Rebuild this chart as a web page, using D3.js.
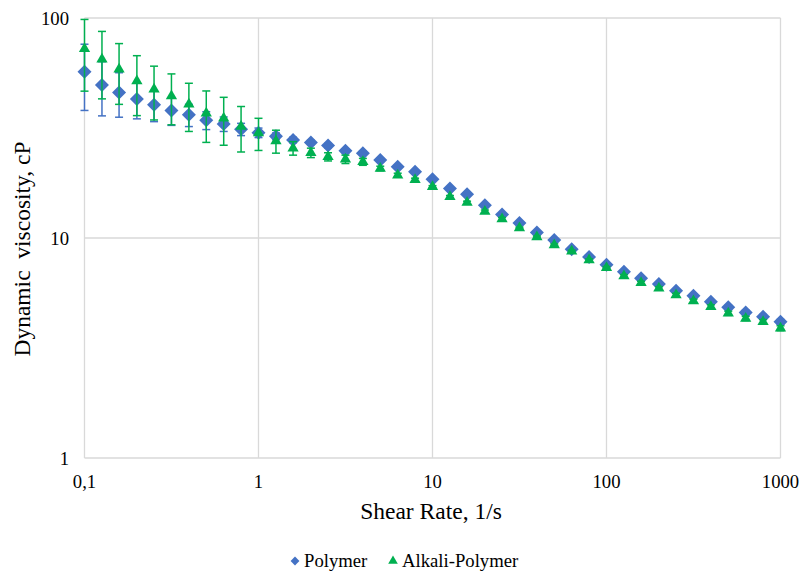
<!DOCTYPE html>
<html>
<head>
<meta charset="utf-8">
<script src="https://cdn.jsdelivr.net/npm/d3@7"></script>
<style>
  body { margin: 0; background: #fff; }
</style>
</head>
<body>
<div id="chart"></div>
<script>
// data //////////////////////
var shearRate = [0.1, 0.126, 0.158, 0.2, 0.251, 0.316, 0.398, 0.501, 0.631, 0.794,
                 1, 1.26, 1.58, 2, 2.51, 3.16, 3.98, 5.01, 6.31, 7.94,
                 10, 12.6, 15.8, 20, 25.1, 31.6, 39.8, 50.1, 63.1, 79.4,
                 100, 126, 158, 200, 251, 316, 398, 501, 631, 794, 1000];

var polymer = [57.0, 49.6, 45.9, 42.8, 40.3, 38.0, 36.3, 34.3, 33.0, 31.2,
               30.1, 29.0, 27.9, 27.2, 26.3, 24.9, 24.3, 22.6, 21.1, 20.0,
               18.5, 16.8, 15.8, 14.1, 12.8, 11.7, 10.6, 9.8, 8.9, 8.2,
               7.55, 7.03, 6.56, 6.18, 5.76, 5.47, 5.13, 4.84, 4.59, 4.39, 4.16];
var polymerErr = [19, 13.7, 10.5, 8, 6.5, 5.5, 4.2, 3.2, 2.5, 2,
                  1.5, 1, 0.8, 0.6, 0.6, 0.5, 0.5, 0.4, 0.3, 0.3,
                  0.2, 0.2, 0.2, 0.2, 0.2, 0.1, 0.1, 0.1, 0.1, 0.1,
                  0.1, 0.1, 0.1, 0.1, 0.1, 0.1, 0.1, 0.1, 0.1, 0.1, 0.1];

var alkaliPolymer = [72.5, 64.9, 58.5, 51.7, 47.4, 44.2, 40.5, 36.9, 35.0, 32.1,
                     30.0, 27.6, 25.6, 24.4, 23.4, 22.8, 22.2, 20.7, 19.3, 18.4,
                     17.1, 15.4, 14.5, 13.2, 12.2, 11.1, 10.1, 9.3, 8.7, 7.94,
                     7.32, 6.72, 6.26, 5.91, 5.51, 5.17, 4.87, 4.55, 4.31, 4.16, 3.89];
var alkaliErr = [26, 22, 18, 15.7, 13, 11.5, 10, 9.7, 8.6, 7.5,
                 5, 3.3, 1.8, 1.2, 1, 1, 0.8, 0.5, 0.4, 0.3,
                 0.2, 0.2, 0.2, 0.2, 0.2, 0.1, 0.1, 0.1, 0.1, 0.1,
                 0.1, 0.1, 0.1, 0.1, 0.1, 0.1, 0.1, 0.1, 0.1, 0.1, 0.1];

var xTicks = [0.1, 1, 10, 100, 1000];
var xTickLabels = ["0,1", "1", "10", "100", "1000"];
var yTicks = [1, 10, 100];
var yTickLabels = ["1", "10", "100"];

var seriesNames = ["Polymer", "Alkali-Polymer"];
var seriesColors = ["#4472C4", "#00B050"];

// setup //////////////////////////////////////////
var width = 800, height = 574;
var plot = {left: 84.5, right: 780.5, top: 18, bottom: 458};
var serif = "'Liberation Serif', 'Times New Roman', 'DejaVu Serif', serif";

var svg = d3.select('#chart')
    .append('svg')
    .attr('width', width)
    .attr('height', height)
    .attr('font-family', serif)
    .style('font-family', serif);

var x = d3.scaleLog().domain([0.1, 1000]).range([plot.left, plot.right]);
var y = d3.scaleLog().domain([1, 100]).range([plot.bottom, plot.top]);

// gridlines
svg.append('g').selectAll('line.v')
    .data(xTicks).enter().append('line')
    .attr('x1', function(d) { return x(d); })
    .attr('x2', function(d) { return x(d); })
    .attr('y1', plot.top).attr('y2', plot.bottom)
    .style('stroke', '#d9d9d9').style('stroke-width', 1.3);

svg.append('g').selectAll('line.h')
    .data(yTicks).enter().append('line')
    .attr('x1', plot.left).attr('x2', plot.right)
    .attr('y1', function(d) { return y(d); })
    .attr('y2', function(d) { return y(d); })
    .style('stroke', '#d9d9d9').style('stroke-width', 1.3);

// tick labels
svg.append('g').selectAll('text')
    .data(xTicks).enter().append('text')
    .attr('x', function(d) { return x(d); })
    .attr('y', 487.5)
    .style('text-anchor', 'middle')
    .style('font-size', '18.7px')
    .text(function(d, i) { return xTickLabels[i]; });

svg.append('g').selectAll('text')
    .data(yTicks).enter().append('text')
    .attr('x', 69)
    .attr('y', function(d) { return y(d) + 6.5; })
    .style('text-anchor', 'end')
    .style('font-size', '18.7px')
    .text(function(d, i) { return yTickLabels[i]; });

// axis titles
svg.append('text')
    .attr('x', 431).attr('y', 518.5)
    .style('text-anchor', 'middle')
    .style('font-size', '23.5px')
    .text('Shear Rate, 1/s');

svg.append('text')
    .attr('transform', 'translate(30,249) rotate(-90)')
    .style('text-anchor', 'middle')
    .style('font-size', '23.5px')
    .style('white-space', 'pre')
    .text('Dynamic  viscosity, cP');

// series ///////////////////////////////////////
var diamond = d3.symbol().type(d3.symbolDiamond2).size(125);
var triangle = d3.symbol().type(d3.symbolTriangle).size(55);

function drawSeries(vals, errs, color, sym) {
    var rows = shearRate.map(function(r, i) { return {x: r, y: vals[i], e: errs[i]}; });
    var g = svg.append('g');
    var cap = 4;
    var eb = g.selectAll('g.err').data(rows).enter().append('g')
        .style('stroke', color).style('stroke-width', 1.5);
    eb.append('line')
        .attr('x1', function(d) { return x(d.x); })
        .attr('x2', function(d) { return x(d.x); })
        .attr('y1', function(d) { return y(d.y + d.e); })
        .attr('y2', function(d) { return y(d.y - d.e); });
    eb.append('line')
        .attr('x1', function(d) { return x(d.x) - cap; })
        .attr('x2', function(d) { return x(d.x) + cap; })
        .attr('y1', function(d) { return y(d.y + d.e); })
        .attr('y2', function(d) { return y(d.y + d.e); });
    eb.append('line')
        .attr('x1', function(d) { return x(d.x) - cap; })
        .attr('x2', function(d) { return x(d.x) + cap; })
        .attr('y1', function(d) { return y(d.y - d.e); })
        .attr('y2', function(d) { return y(d.y - d.e); });

    g.selectAll('path').data(rows).enter().append('path')
        .attr('d', sym)
        .attr('transform', function(d) { return 'translate(' + x(d.x) + ',' + y(d.y) + ')'; })
        .style('fill', color);
}

drawSeries(polymer, polymerErr, seriesColors[0], diamond);
drawSeries(alkaliPolymer, alkaliErr, seriesColors[1], triangle);

// legend ////////////////////////////////////////
var legendX = [295, 393];
var legend = svg.append('g').selectAll('g')
    .data(seriesNames).enter().append('g')
    .attr('transform', function(d, i) { return 'translate(' + legendX[i] + ',561)'; });

legend.append('path')
    .attr('d', function(d, i) {
        return i === 0 ? d3.symbol().type(d3.symbolDiamond2).size(50)()
                       : d3.symbol().type(d3.symbolTriangle).size(40)();
    })
    .style('fill', function(d, i) { return seriesColors[i]; });

legend.append('text')
    .attr('x', 9).attr('y', 6)
    .style('font-size', '18.7px')
    .text(function(d) { return d; });
</script>
</body>
</html>
